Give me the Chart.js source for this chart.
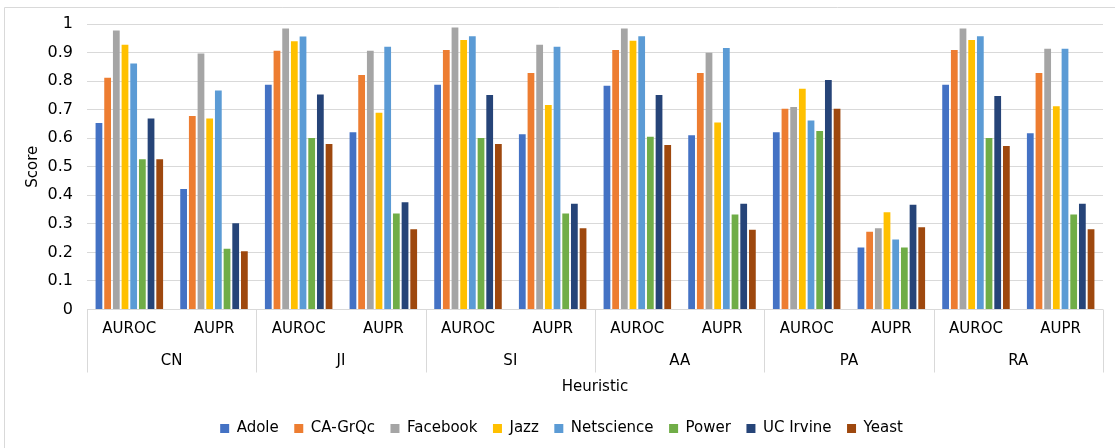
<!DOCTYPE html>
<html>
<head>
<meta charset="utf-8">
<title>Heuristic scores</title>
<script src="https://cdn.jsdelivr.net/npm/chart.js@4/dist/chart.umd.min.js"></script>
<style>
  html, body { margin: 0; padding: 0; background: #ffffff; }
  #wrap { position: relative; width: 1115px; height: 448px; }
</style>
</head>
<body>
<div id="wrap"><canvas id="chart" width="1115" height="448"></canvas></div>
<script>
// Heuristics, each scored by two metrics
const heuristics = ['CN', 'JI', 'SI', 'AA', 'PA', 'RA'];
const metrics = ['AUROC', 'AUPR'];
const categories = heuristics.flatMap(() => metrics);

// Scores per dataset, ordered CN-AUROC, CN-AUPR, JI-AUROC, JI-AUPR, ... RA-AUPR
const adole      = [0.653, 0.422, 0.787, 0.621, 0.787, 0.614, 0.784, 0.610, 0.621, 0.217, 0.787, 0.617];
const caGrQc     = [0.812, 0.678, 0.906, 0.821, 0.909, 0.828, 0.909, 0.828, 0.703, 0.272, 0.909, 0.828];
const facebook   = [0.977, 0.897, 0.984, 0.906, 0.988, 0.927, 0.984, 0.899, 0.709, 0.285, 0.984, 0.913];
const jazz       = [0.927, 0.669, 0.940, 0.689, 0.944, 0.716, 0.941, 0.655, 0.773, 0.341, 0.944, 0.712];
const netscience = [0.862, 0.767, 0.956, 0.920, 0.957, 0.920, 0.957, 0.916, 0.662, 0.245, 0.957, 0.913];
const power      = [0.526, 0.213, 0.601, 0.336, 0.601, 0.336, 0.605, 0.333, 0.625, 0.217, 0.601, 0.333];
const ucIrvine   = [0.669, 0.302, 0.753, 0.376, 0.751, 0.370, 0.751, 0.370, 0.804, 0.367, 0.748, 0.370];
const yeast      = [0.526, 0.204, 0.580, 0.281, 0.580, 0.285, 0.576, 0.279, 0.703, 0.288, 0.573, 0.281];

const seriesNames = ['Adole', 'CA-GrQc', 'Facebook', 'Jazz', 'Netscience', 'Power', 'UC Irvine', 'Yeast'];
const seriesValues = [adole, caGrQc, facebook, jazz, netscience, power, ucIrvine, yeast];
const seriesColors = ['#4472C4', '#ED7D31', '#A5A5A5', '#FFC000', '#5B9BD5', '#70AD47', '#264478', '#9E480E'];

const FONT = 'DejaVu Sans';
const TEXT = '#000000';
const GRID = '#d9d9d9';

// Light frame around the whole chart
const framePlugin = {
  id: 'frame',
  beforeDraw(chart) {
    const ctx = chart.ctx;
    ctx.save();
    ctx.strokeStyle = GRID;
    ctx.lineWidth = 1;
    ctx.beginPath();
    ctx.moveTo(4.5, chart.height);
    ctx.lineTo(4.5, 7.5);
    ctx.lineTo(chart.width, 7.5);
    ctx.stroke();
    ctx.restore();
  }
};

// Vertical separators between heuristic groups below the axis
const groupSeparators = {
  id: 'groupSeparators',
  afterDraw(chart) {
    const x = chart.scales.x;
    const x2 = chart.scales.x2;
    const ctx = chart.ctx;
    const top = chart.chartArea.bottom;
    const bottom = x2.top + 23;
    const xs = [x.left];
    for (let k = 1; k < heuristics.length; k++) {
      const i = k * metrics.length;
      xs.push((x.getPixelForValue(i - 1) + x.getPixelForValue(i)) / 2);
    }
    xs.push(x.right);
    ctx.save();
    ctx.strokeStyle = GRID;
    ctx.lineWidth = 1;
    ctx.beginPath();
    xs.forEach(px => {
      const p = Math.round(px) + 0.5;
      ctx.moveTo(p, top);
      ctx.lineTo(p, bottom);
    });
    ctx.stroke();
    ctx.restore();
  }
};

new Chart(document.getElementById('chart'), {
  type: 'bar',
  data: {
    labels: categories,
    datasets: seriesNames.map((name, i) => ({
      label: name,
      data: seriesValues[i],
      backgroundColor: seriesColors[i],
      borderWidth: 0,
      categoryPercentage: 0.82,
      barPercentage: 0.78
    }))
  },
  options: {
    responsive: false,
    animation: false,
    layout: { padding: { left: 20, right: 12, top: 24, bottom: 2 } },
    plugins: {
      legend: {
        position: 'bottom',
        labels: {
          font: { family: FONT, size: 15 },
          color: TEXT,
          boxWidth: 9,
          boxHeight: 9,
          padding: 15.5
        }
      },
      tooltip: { enabled: false }
    },
    scales: {
      y: {
        min: 0,
        max: 1,
        ticks: {
          stepSize: 0.1,
          padding: 14,
          color: TEXT,
          font: { family: FONT, size: 16 },
          callback: v => String(Math.round(v * 10) / 10)
        },
        grid: { color: GRID, drawTicks: false },
        border: { display: false },
        title: {
          display: true,
          text: 'Score',
          color: TEXT,
          font: { family: FONT, size: 15 },
          padding: { top: 4, bottom: 4 }
        },
        afterFit(scale) { scale.width = 67; }
      },
      x: {
        ticks: {
          color: TEXT,
          font: { family: FONT, size: 15 },
          padding: 11,
          maxRotation: 0,
          autoSkip: false
        },
        grid: { display: false, drawTicks: false },
        border: { display: false },
        afterFit(scale) { scale.height = 40; }
      },
      x2: {
        type: 'category',
        labels: heuristics,
        position: 'bottom',
        offset: true,
        ticks: {
          color: TEXT,
          font: { family: FONT, size: 15 },
          padding: 3,
          maxRotation: 0,
          autoSkip: false
        },
        grid: { display: false, drawTicks: false },
        border: { display: false },
        title: {
          display: true,
          text: 'Heuristic',
          color: TEXT,
          font: { family: FONT, size: 15 },
          padding: { top: 0, bottom: 9 }
        },
        afterFit(scale) { scale.height = 56; }
      }
    }
  },
  plugins: [framePlugin, groupSeparators]
});
</script>
</body>
</html>
